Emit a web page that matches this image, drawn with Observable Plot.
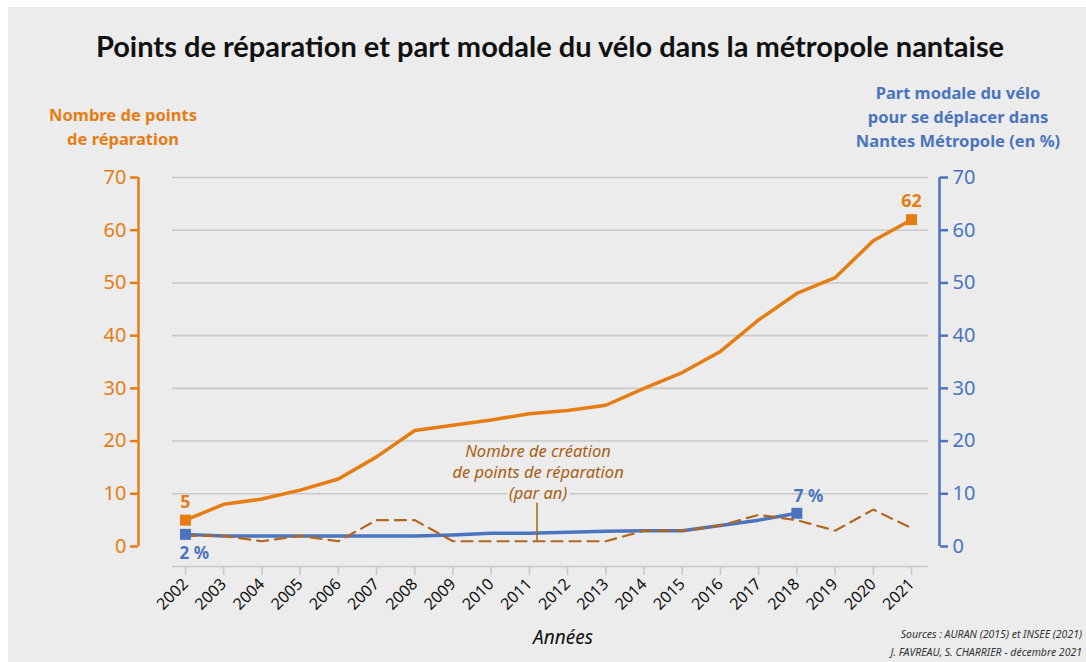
<!DOCTYPE html>
<html><head><meta charset="utf-8">
<script src="https://cdn.jsdelivr.net/npm/d3@7"></script>
<script src="https://cdn.jsdelivr.net/npm/@observablehq/plot@0.6"></script>
<style>
body{margin:0;background:#fff;}
svg{display:block}
</style>
</head><body><div id="chart"></div>
<script>
const years = [2002,2003,2004,2005,2006,2007,2008,2009,2010,2011,2012,2013,2014,2015,2016,2017,2018,2019,2020,2021];
const totalPoints = [5,8,9,10.7,12.8,17,22,23,24,25.2,25.8,26.8,30,33,37,43,48,51,58,62];
const newPoints = [2,2,1,2,1,5,5,1,1,1,1,1,3,3,4,6,5,3,7,3.5];
const shareYears = [2002,2003,2004,2005,2006,2007,2008,2009,2010,2011,2012,2013,2014,2015,2016,2017,2018];
const bikeShare = [2.3,2,2,2,2,2,2,2.2,2.5,2.5,2.7,2.9,3,3,4,5,6.3];
const yTicks = [0,10,20,30,40,50,60,70];
const endLabels = [
  {year:2002, value:5, text:"5", series:"points"},
  {year:2021, value:62, text:"62", series:"points"},
  {year:2002, value:2.3, text:"2 %", series:"share"},
  {year:2018, value:6.3, text:"7 %", series:"share"}
];
const annotation = {year:2011.2, value:1, top:8.2, lines:"Nombre de création\nde points de réparation\n(par an)"};

const ORANGE = "#e67d14";
const BLUE = "#4a74be";
const BROWN = "#b4661c";
const BROWN_TEXT = "#a95f12";
const BG = "#ececec";
const GRID = "#c8c8c8";
const FONT = "'Noto Sans', sans-serif";

const totals = years.map((y,i)=>({year:y, value:totalPoints[i]}));
const news = years.map((y,i)=>({year:y, value:newPoints[i]}));
const shares = shareYears.map((y,i)=>({year:y, value:bikeShare[i]}));

const chart = Plot.plot({
  width: 1086,
  height: 662,
  marginTop: 177,
  marginBottom: 116,
  marginLeft: 185,
  marginRight: 175,
  style: {background: "transparent", fontFamily: FONT},
  x: {domain: [2002, 2021]},
  y: {domain: [0, 70]},
  marks: [
    Plot.gridY(yTicks.filter(d=>d>0), {stroke: GRID, strokeOpacity: 1, strokeWidth: 1.6, insetLeft: -13, insetRight: -17}),
    Plot.ruleY([0], {dy: 20, stroke: GRID, strokeWidth: 1.6, insetLeft: -13, insetRight: -17}),
    Plot.axisX({ticks: years, tickFormat: d=>String(d), tickRotate: -45, tickSize: 9, dy: 20, stroke: GRID, strokeWidth: 1.6, fill: "#111", fontSize: 16, label: null}),
    Plot.axisY({anchor: "left", ticks: yTicks, tickSize: 8, dx: -47, stroke: ORANGE, strokeWidth: 2.5, fill: ORANGE, fontSize: 20, label: null, tickPadding: 4}),
    Plot.axisY({anchor: "right", ticks: yTicks, tickSize: 8, dx: 28, stroke: BLUE, strokeWidth: 2.5, fill: BLUE, fontSize: 20, label: null, tickPadding: 5}),
    Plot.ruleX([2002], {y1: 0, y2: 70, dx: -47, stroke: ORANGE, strokeWidth: 2.5}),
    Plot.ruleX([2021], {y1: 0, y2: 70, dx: 28, stroke: BLUE, strokeWidth: 2.5}),
    Plot.line(shares, {x: "year", y: "value", stroke: BLUE, strokeWidth: 3.5}),
    Plot.line(news, {x: "year", y: "value", stroke: BROWN, strokeWidth: 2.2, strokeDasharray: "11,7"}),
    Plot.line(totals, {x: "year", y: "value", stroke: ORANGE, strokeWidth: 3.5}),
    Plot.ruleX([annotation], {x: "year", y1: "value", y2: "top", stroke: BROWN_TEXT, strokeWidth: 1.5}),
    Plot.text([annotation], {x: "year", y: "top", text: "lines", dx: 1, dy: -32, fill: BROWN_TEXT, fontSize: 16.5, fontStyle: "italic", lineHeight: 1.28, stroke: BG, strokeWidth: 6, textAnchor: "middle"}),
    Plot.dot(endLabels, {x: "year", y: "value", symbol: "square", r: 6.2, fill: d=>d.series==="points"?ORANGE:BLUE, stroke: "none"}),
    Plot.text(endLabels.filter(d=>d.series==="points"), {x: "year", y: "value", text: "text", dy: -18, fill: ORANGE, fontSize: 18, fontWeight: "bold"}),
    Plot.text(endLabels.filter(d=>d.series==="share" && d.year===2002), {x: "year", y: "value", text: "text", dx: -6, dy: 19, textAnchor: "start", fill: BLUE, fontSize: 17, fontWeight: "bold"}),
    Plot.text(endLabels.filter(d=>d.series==="share" && d.year===2018), {x: "year", y: "value", text: "text", dx: -3, dy: -17, textAnchor: "start", fill: BLUE, fontSize: 17, fontWeight: "bold"})
  ]
});

const svg = d3.select(chart);
svg.insert("rect", ":first-child").attr("x", 8).attr("y", 7).attr("width", 1078).attr("height", 655).attr("fill", BG);

function addText(x, y, lines, opts) {
  const t = svg.append("text").attr("x", x).attr("y", y)
    .attr("text-anchor", opts.anchor || "middle")
    .attr("fill", opts.fill || "#111")
    .attr("font-family", opts.family || FONT)
    .attr("font-size", opts.size)
    .attr("font-weight", opts.weight || "normal")
    .attr("font-style", opts.style || "normal");
  lines.forEach((l, i) => t.append("tspan").attr("x", x).attr("dy", i === 0 ? 0 : opts.lh).text(l));
  return t;
}
addText(550, 57, ["Points de réparation et part modale du vélo dans la métropole nantaise"], {size: 29, weight: "bold", family: "Lato, sans-serif"});
addText(123, 121, ["Nombre de points", "de réparation"], {size: 16.5, weight: "bold", fill: ORANGE, lh: 24});
addText(958, 99, ["Part modale du vélo", "pour se déplacer dans", "Nantes Métropole (en %)"], {size: 16.5, weight: "bold", fill: BLUE, lh: 24});
addText(563, 644, ["Années"], {size: 19, style: "italic"});
addText(1082, 638, ["Sources : AURAN (2015) et INSEE (2021)"], {size: 10.5, style: "italic", anchor: "end", fill: "#333"});
addText(1082, 656, ["J. FAVREAU, S. CHARRIER - décembre 2021"], {size: 10.5, style: "italic", anchor: "end", fill: "#333"});

document.getElementById("chart").appendChild(chart);
</script>
</body></html>
